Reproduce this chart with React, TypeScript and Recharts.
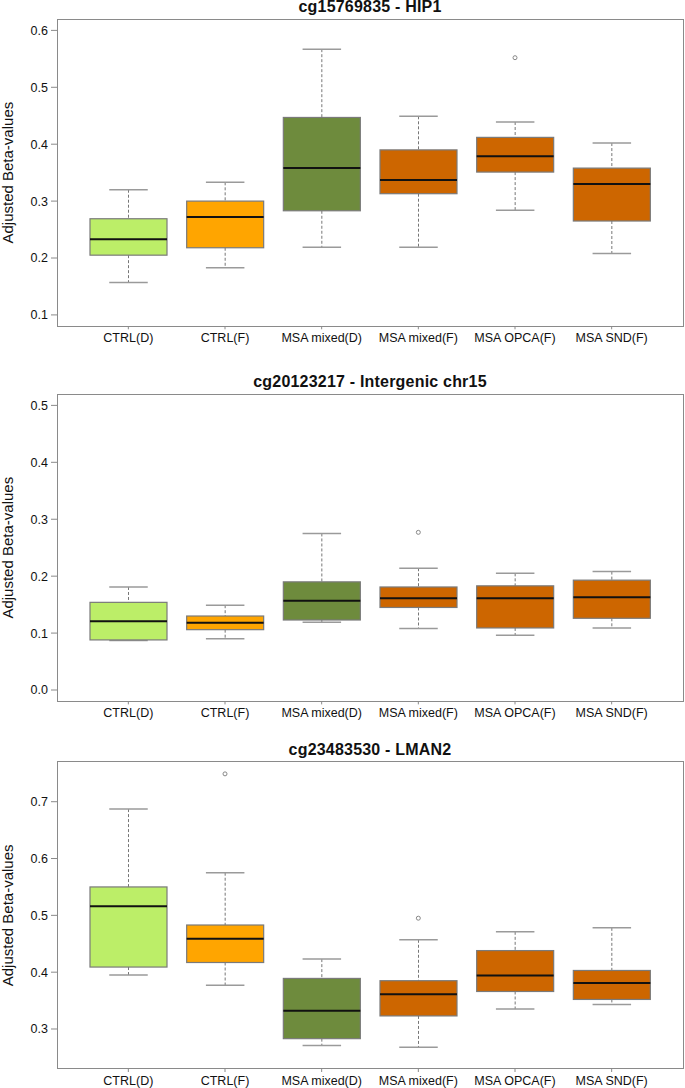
import React from 'react';
import { ComposedChart, Bar, Scatter, XAxis, YAxis } from 'recharts';

const groups = ['CTRL(D)', 'CTRL(F)', 'MSA mixed(D)', 'MSA mixed(F)', 'MSA OPCA(F)', 'MSA SND(F)'];

// cg15769835 - HIP1
const hipLow = [0.157, 0.183, 0.219, 0.219, 0.284, 0.208];
const hipQ1 = [0.205, 0.218, 0.283, 0.313, 0.351, 0.265];
const hipMedian = [0.233, 0.272, 0.358, 0.337, 0.379, 0.330];
const hipQ3 = [0.269, 0.300, 0.447, 0.390, 0.412, 0.358];
const hipHigh = [0.320, 0.333, 0.567, 0.449, 0.439, 0.402];
const hipOutliers = [null, null, null, null, 0.552, null];
const hipTicks = [0.1, 0.2, 0.3, 0.4, 0.5, 0.6];

// cg20123217 - Intergenic chr15
const chrLow = [0.087, 0.090, 0.119, 0.108, 0.096, 0.109];
const chrQ1 = [0.088, 0.106, 0.123, 0.145, 0.109, 0.126];
const chrMedian = [0.121, 0.118, 0.157, 0.161, 0.161, 0.163];
const chrQ3 = [0.154, 0.130, 0.190, 0.181, 0.183, 0.193];
const chrHigh = [0.181, 0.149, 0.275, 0.214, 0.205, 0.208];
const chrOutliers = [null, null, null, 0.277, null, null];
const chrTicks = [0.0, 0.1, 0.2, 0.3, 0.4, 0.5];

// cg23483530 - LMAN2
const lmanLow = [0.395, 0.377, 0.271, 0.268, 0.335, 0.343];
const lmanQ1 = [0.409, 0.417, 0.283, 0.323, 0.366, 0.352];
const lmanMedian = [0.516, 0.459, 0.332, 0.361, 0.394, 0.381];
const lmanQ3 = [0.550, 0.483, 0.389, 0.385, 0.438, 0.403];
const lmanHigh = [0.687, 0.575, 0.423, 0.457, 0.471, 0.478];
const lmanOutliers = [null, 0.749, null, 0.495, null, null];
const lmanTicks = [0.3, 0.4, 0.5, 0.6, 0.7];

const FILLS = ['#BCEE68', '#FFA500', '#6E8B3D', '#CD6600', '#CD6600', '#CD6600'];
const FONT = '"Liberation Sans", Arial, sans-serif';
const FRAME = '#8a8a8a';

type Row = {
  name: string; lo: number; q1: number; med: number; q3: number; hi: number;
  box: [number, number]; out: number | null;
};

function buildRows(lo: number[], q1: number[], med: number[], q3: number[], hi: number[], out: (number | null)[]): Row[] {
  return groups.map((name, i) => ({
    name, lo: lo[i], q1: q1[i], med: med[i], q3: q3[i], hi: hi[i],
    box: [q1[i], q3[i]], out: out[i],
  }));
}

// box drawn from the range bar; other y positions use the bar's own px/unit
function BoxShape(props: any) {
  const { x, y, width, height, payload, index } = props;
  const top = Math.min(y, y + height);
  const h = Math.abs(height);
  const k = h / (payload.q3 - payload.q1);
  const py = (v: number) => top + (payload.q3 - v) * k;
  const cx = x + width / 2;
  const cap = width / 4;
  return (
    <g>
      <line x1={cx} x2={cx} y1={py(payload.hi)} y2={top} stroke="#777" strokeDasharray="3 2" />
      <line x1={cx} x2={cx} y1={top + h} y2={py(payload.lo)} stroke="#777" strokeDasharray="3 2" />
      <line x1={cx - cap} x2={cx + cap} y1={py(payload.hi)} y2={py(payload.hi)} stroke="#9a9a9a" strokeWidth={1.5} />
      <line x1={cx - cap} x2={cx + cap} y1={py(payload.lo)} y2={py(payload.lo)} stroke="#9a9a9a" strokeWidth={1.5} />
      <rect x={x} y={top} width={width} height={h} fill={FILLS[index]} stroke="#7a7a7a" strokeWidth={1.2} />
      <line x1={x} x2={x + width} y1={py(payload.med)} y2={py(payload.med)} stroke="#111" strokeWidth={2} />
    </g>
  );
}

function OutlierShape(props: any) {
  const { cx, cy, payload } = props;
  if (payload?.out == null || !Number.isFinite(cy)) return <g />;
  return <circle cx={cx} cy={cy} r={2} fill="none" stroke="#888" strokeWidth={1} />;
}

function yLabel(props: any) {
  const vb = props.viewBox || {};
  const cy = vb.y + vb.height / 2;
  return (
    <text x={8} y={cy} transform={`rotate(-90, 8, ${cy})`} textAnchor="middle"
      dominantBaseline="central" fontSize={15} fill="#111" fontFamily={FONT}>
      Adjusted Beta-values
    </text>
  );
}

function Panel({ title, top, height, plotTop, plotBottom, domain, ticks, rows }: {
  title: string; top: number; height: number; plotTop: number; plotBottom: number;
  domain: [number, number]; ticks: number[]; rows: Row[];
}) {
  const xh = 18;
  const margin = { top: plotTop - top, right: 2, left: 0, bottom: top + height - plotBottom - xh };
  return (
    <div style={{ position: 'absolute', left: 0, top, width: 685, height }}>
      <div style={{
        position: 'absolute', left: 57, width: 626, top: plotTop - top - 22, height: 20,
        lineHeight: '20px', textAlign: 'center', fontWeight: 'bold', fontSize: 16,
        color: '#111', fontFamily: FONT, letterSpacing: 0.2,
      }}>{title}</div>
      <ComposedChart width={685} height={height} data={rows} margin={margin}>
        <XAxis dataKey="name" type="category" height={xh} padding={{ left: 23, right: 23 }}
          axisLine={false} tickLine={{ stroke: FRAME }}
          tickSize={3} tickMargin={4} interval={0}
          tick={{ fontSize: 12.5, fill: '#111' }} />
        <YAxis type="number" domain={domain} ticks={ticks} width={57} allowDataOverflow
          axisLine={false} tickLine={{ stroke: FRAME }}
          tickSize={6} tickMargin={3} tickFormatter={(v: number) => v.toFixed(1)}
          tick={{ fontSize: 12.5, fill: '#111' }} label={yLabel} />
        <Bar dataKey="box" barSize={77} shape={BoxShape} isAnimationActive={false} />
        <Scatter dataKey="out" shape={OutlierShape} isAnimationActive={false} />
      </ComposedChart>
      {/* plot frame, like R's box() */}
      <div style={{
        position: 'absolute', left: 56.5, top: plotTop - top - 0.5, width: 627, height: plotBottom - plotTop + 1,
        border: `1.3px solid ${FRAME}`, boxSizing: 'border-box', pointerEvents: 'none',
      }} />
    </div>
  );
}

export default function App() {
  const hipRows = buildRows(hipLow, hipQ1, hipMedian, hipQ3, hipHigh, hipOutliers);
  const chrRows = buildRows(chrLow, chrQ1, chrMedian, chrQ3, chrHigh, chrOutliers);
  const lmanRows = buildRows(lmanLow, lmanQ1, lmanMedian, lmanQ3, lmanHigh, lmanOutliers);
  return (
    <div style={{ position: 'absolute', left: 0, top: 0, width: 685, height: 1088, background: '#fff', fontFamily: FONT }}>
      <Panel title="cg15769835 - HIP1" top={0} height={350} plotTop={19} plotBottom={326.3}
        domain={[0.08, 0.62]} ticks={hipTicks} rows={hipRows} />
      <Panel title="cg20123217 - Intergenic chr15" top={360} height={370} plotTop={394} plotBottom={701.4}
        domain={[-0.02, 0.52]} ticks={chrTicks} rows={chrRows} />
      <Panel title="cg23483530 - LMAN2" top={735} height={353} plotTop={761.7} plotBottom={1069}
        domain={[0.2296, 0.7704]} ticks={lmanTicks} rows={lmanRows} />
    </div>
  );
}
